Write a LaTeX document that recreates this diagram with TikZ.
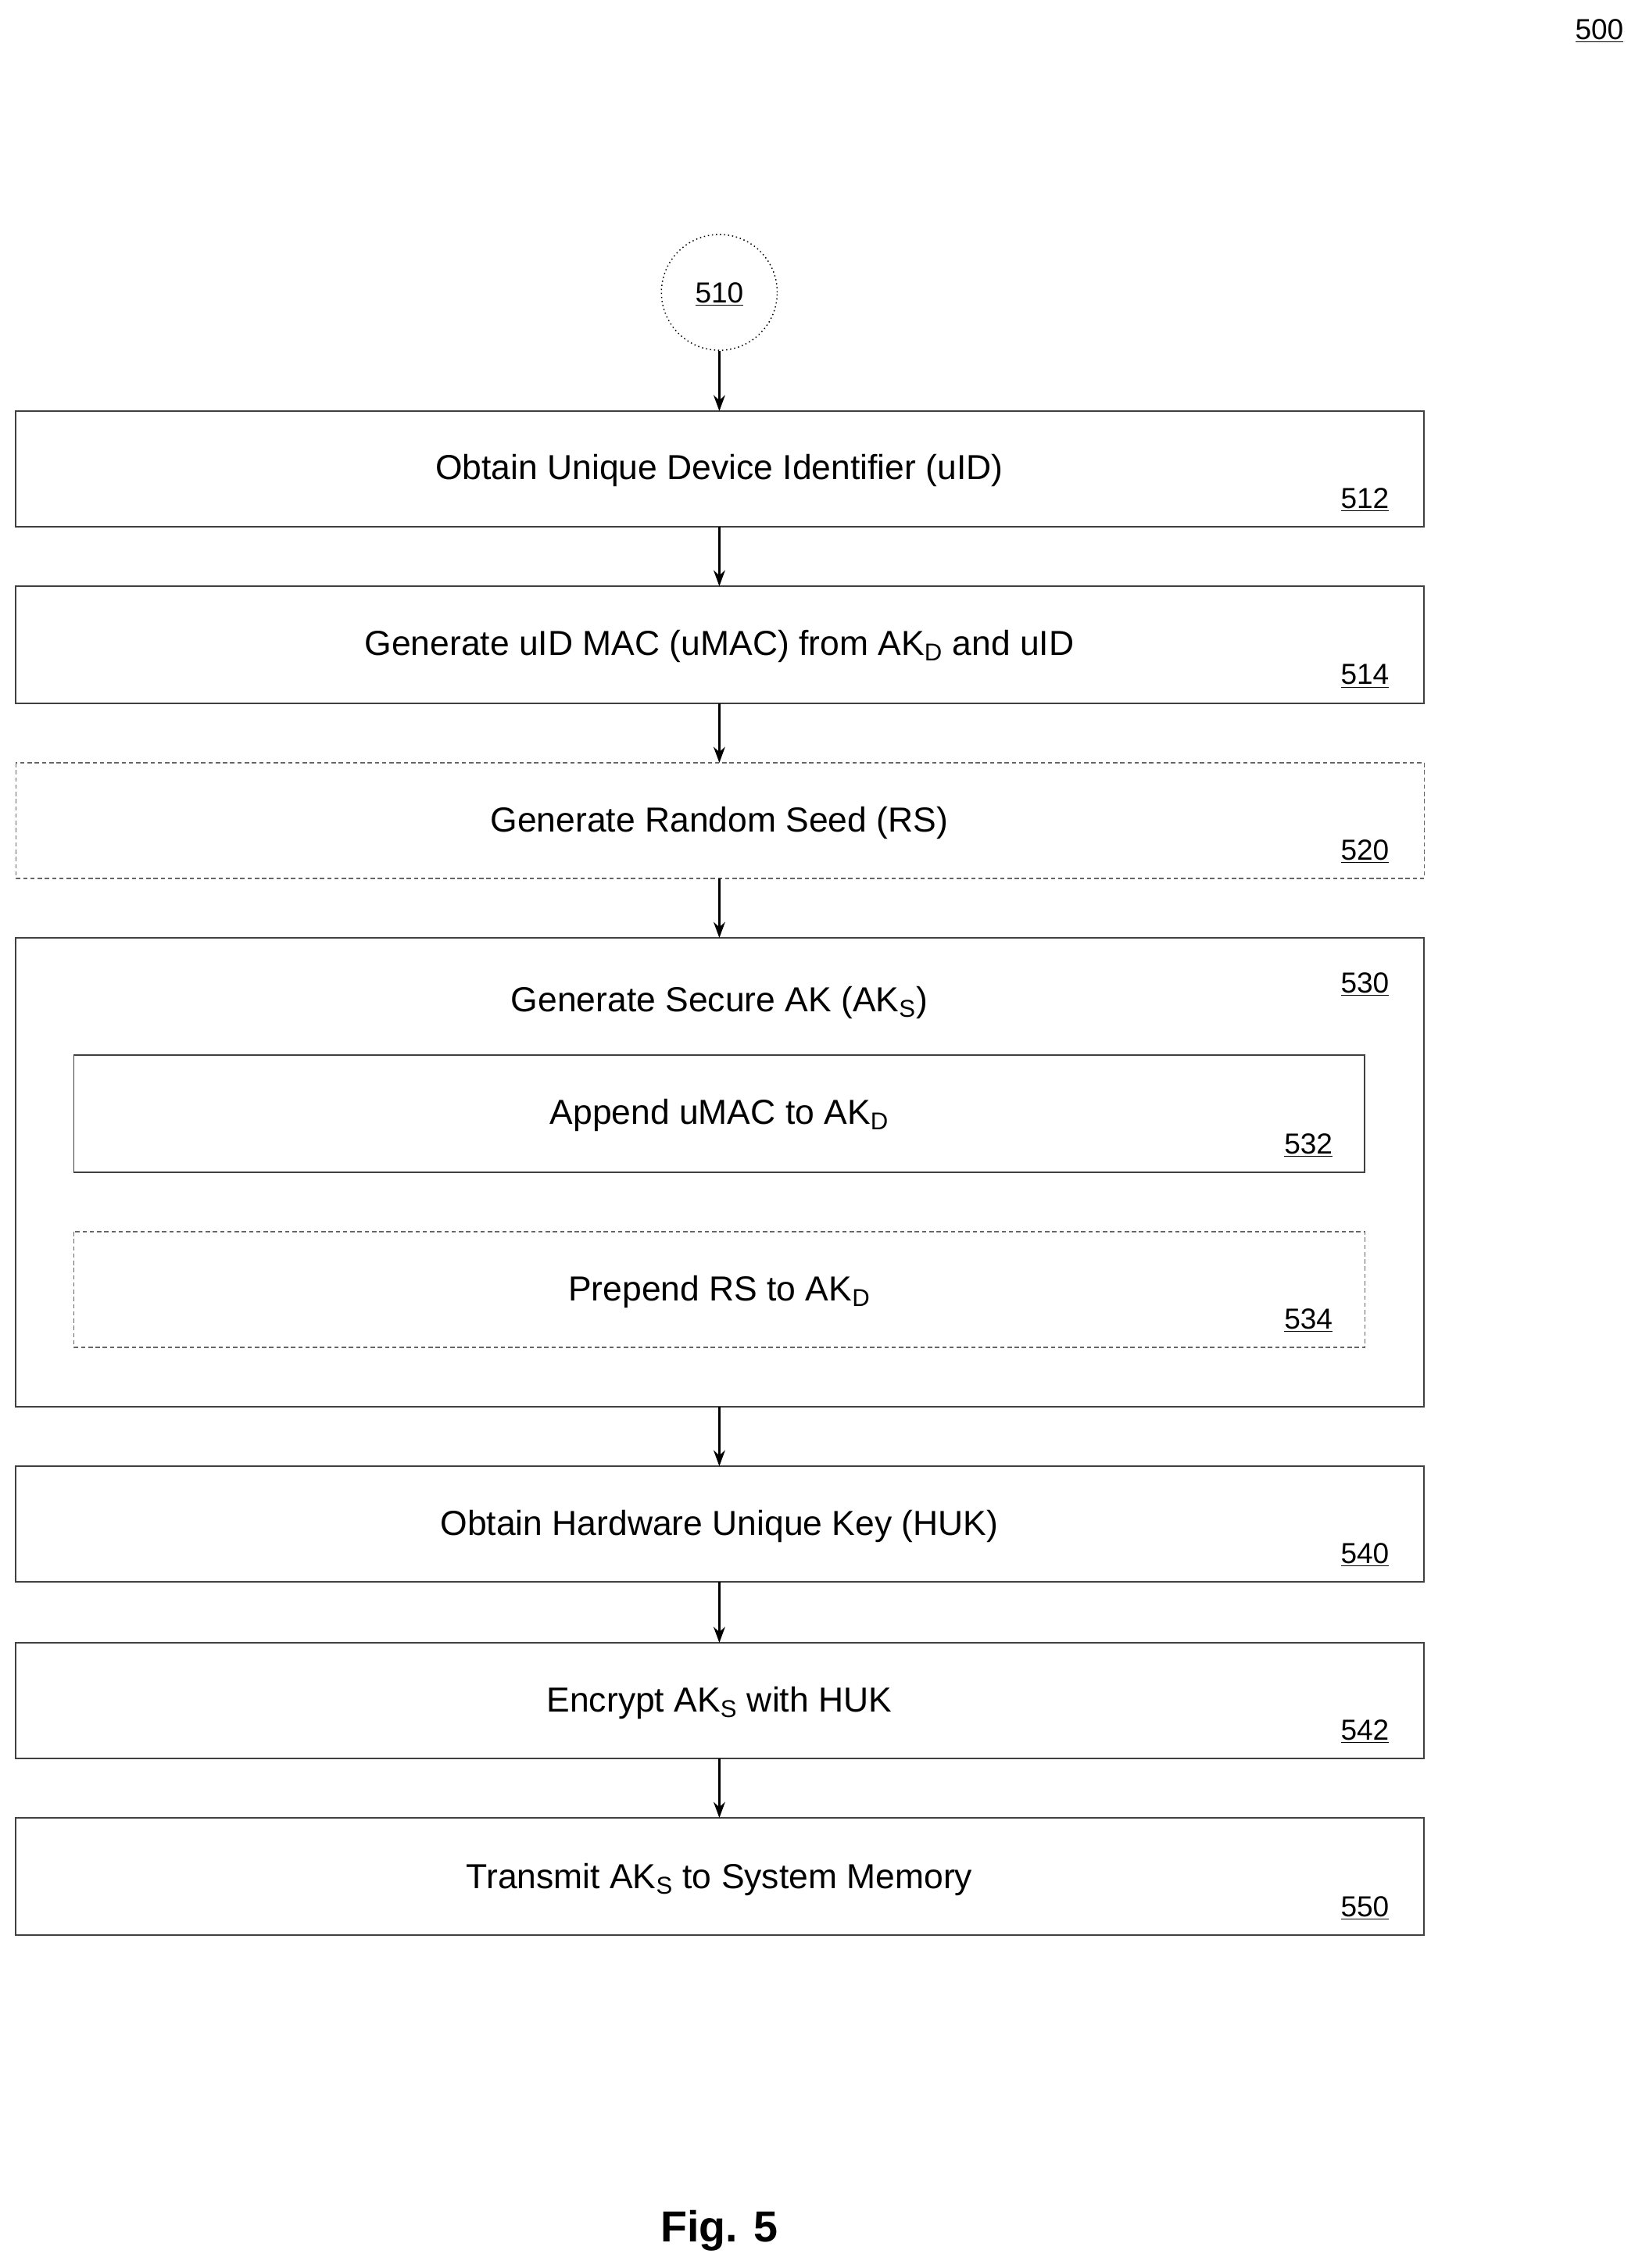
\documentclass[tikz,border=0pt]{standalone}
\usepackage{fontspec}
\setmainfont{Liberation Sans}
\usetikzlibrary{arrows.meta}
\begin{document}
\begin{tikzpicture}[x=1pt,y=-1pt,
 box/.style={draw=black!75,line width=1pt},
 dbox/.style={draw=black!60,line width=0.8pt,dash pattern=on 3pt off 2pt},
 txt/.style={font=\fontsize{24}{28}\selectfont,anchor=base},
 lab/.style={font=\fontsize{20}{24}\selectfont,anchor=base},
 arr/.style={-{Stealth[length=11pt,width=8pt]},line width=1.3pt}]
\useasboundingbox (0,0) rectangle (1134,1567);
\newcommand{\ul}[1]{\underline{#1}}
\node[lab] (n500) at (1105,27) {\ul{500}};
\node[circle,draw,dotted,line width=0.8pt,minimum size=80pt,inner sep=0pt] (c510) at (497,202) {};
\node[lab] at (497,209) {\ul{510}};
% boxes
\draw[box] (11,284) rectangle (984,364); \coordinate (b512t) at (497,284); \coordinate (b512b) at (497,364);
\draw[box] (11,405) rectangle (984,486); \coordinate (b514t) at (497,405); \coordinate (b514b) at (497,486);
\draw[dbox] (11,527) rectangle (984,607); \coordinate (b520t) at (497,527); \coordinate (b520b) at (497,607);
\draw[box] (11,648) rectangle (984,972); \coordinate (b530t) at (497,648); \coordinate (b530b) at (497,972);
\draw[box] (51,729) rectangle (943,810);
\draw[dbox] (51,851) rectangle (943,931);
\draw[box] (11,1013) rectangle (984,1093); \coordinate (b540t) at (497,1013); \coordinate (b540b) at (497,1093);
\draw[box] (11,1135) rectangle (984,1215); \coordinate (b542t) at (497,1135); \coordinate (b542b) at (497,1215);
\draw[box] (11,1256) rectangle (984,1337); \coordinate (b550t) at (497,1256);
% texts
\node[txt] (t512) at (497,331) {Obtain Unique Device Identifier (uID)};
\node[txt] (t514) at (497,453) {Generate uID MAC (uMAC) from AK\textsubscript{D} and uID};
\node[txt] (t520) at (497,575) {Generate Random Seed (RS)};
\node[txt] (t530) at (497,699) {Generate Secure AK (AK\textsubscript{S})};
\node[txt] (t532) at (497,777) {Append uMAC to AK\textsubscript{D}};
\node[txt] (t534) at (497,899) {Prepend RS to AK\textsubscript{D}};
\node[txt] (t540) at (497,1061) {Obtain Hardware Unique Key (HUK)};
\node[txt] (t542) at (497,1183) {Encrypt AK\textsubscript{S} with HUK};
\node[txt] (t550) at (497,1305) {Transmit AK\textsubscript{S} to System Memory};
% labels
\node[lab] at (943,351) {\ul{512}};
\node[lab] at (943,473) {\ul{514}};
\node[lab] at (943,594) {\ul{520}};
\node[lab] at (943,686) {\ul{530}};
\node[lab] at (904,797) {\ul{532}};
\node[lab] at (904,918) {\ul{534}};
\node[lab] at (943,1080) {\ul{540}};
\node[lab] at (943,1202) {\ul{542}};
\node[lab] at (943,1324) {\ul{550}};
% arrows
\draw[arr] (c510) -- (b512t);
\draw[arr] (b512b) -- (b514t);
\draw[arr] (b514b) -- (b520t);
\draw[arr] (b520b) -- (b530t);
\draw[arr] (b530b) -- (b540t);
\draw[arr] (b540b) -- (b542t);
\draw[arr] (b542b) -- (b550t);
\node[font=\fontsize{30}{34}\selectfont\bfseries,anchor=base] (fig) at (497,1549) {Fig. 5};
\end{tikzpicture}
\end{document}
